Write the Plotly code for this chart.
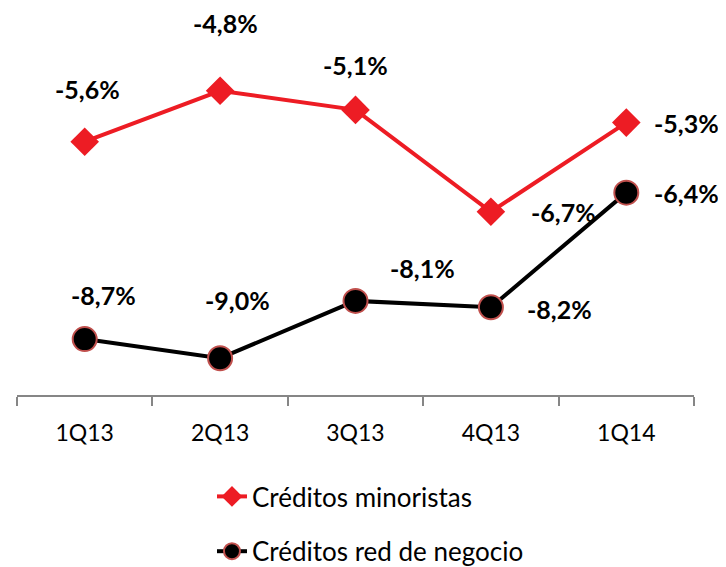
import plotly.graph_objects as go

categories = ["1Q13", "2Q13", "3Q13", "4Q13", "1Q14"]
minoristas = [-5.6, -4.8, -5.1, -6.7, -5.3]
red_negocio = [-8.7, -9.0, -8.1, -8.2, -6.4]
series_names = ["Créditos minoristas", "Créditos red de negocio"]

# label offsets (px) relative to each point
off_min = [(3, 53), (5, 68), (0, 45), (73, 0), (60, 0)]
off_neg = [(19, 44), (17, 58), (67, 33), (69, -2), (60, 0)]

FONT = "Lato, 'Open Sans', sans-serif"

def fmt(v):
    return f"{v:.1f}%".replace(".", ",")

fig = go.Figure()
fig.add_trace(go.Scatter(
    x=categories, y=minoristas, name=series_names[0], mode="lines+markers",
    line=dict(color="#ED1C24", width=4),
    marker=dict(symbol="diamond", size=22, color="#ED1C24"),
    legendgroup="a",
))
fig.add_trace(go.Scatter(
    x=categories, y=red_negocio, name=series_names[1], mode="lines+markers",
    line=dict(color="#000000", width=4),
    marker=dict(symbol="circle", size=24, color="#000000",
                line=dict(color="#C0504D", width=2)),
    legendgroup="b",
))

annotations = []
for cat, v, (dx, dy) in zip(categories, minoristas, off_min):
    annotations.append(dict(x=cat, y=v, text=f"<b>{fmt(v)}</b>", showarrow=False,
                            xshift=dx, yshift=dy, font=dict(family=FONT, size=25, color="#000")))
for cat, v, (dx, dy) in zip(categories, red_negocio, off_neg):
    annotations.append(dict(x=cat, y=v, text=f"<b>{fmt(v)}</b>", showarrow=False,
                            xshift=dx, yshift=dy, font=dict(family=FONT, size=25, color="#000")))

fig.update_layout(
    width=726, height=567,
    margin=dict(l=9, r=40, t=0, b=178),
    paper_bgcolor="white", plot_bgcolor="white",
    font=dict(family=FONT, size=22, color="#000"),
    xaxis=dict(
        type="category", range=[-0.5, 4.5],
        showline=True, linecolor="#868686", linewidth=2,
        ticks="outside", ticklen=9, tickcolor="#868686", tickwidth=2,
        tickson="boundaries", showgrid=False, zeroline=False,
        tickfont=dict(family=FONT, size=23, color="#000"),
        ticklabelstandoff=16,
        fixedrange=True,
    ),
    yaxis=dict(
        range=[-9.578, -3.5], visible=False, showgrid=False, zeroline=False,
    ),
    showlegend=True,
    legend=dict(
        x=0.288, y=-0.203, xanchor="left", yanchor="top",
        orientation="v", traceorder="grouped", tracegroupgap=18,
        font=dict(family=FONT, size=26, color="#000"),
        bgcolor="rgba(0,0,0,0)",
    ),
    annotations=annotations,
)

fig.write_html("out.html")
